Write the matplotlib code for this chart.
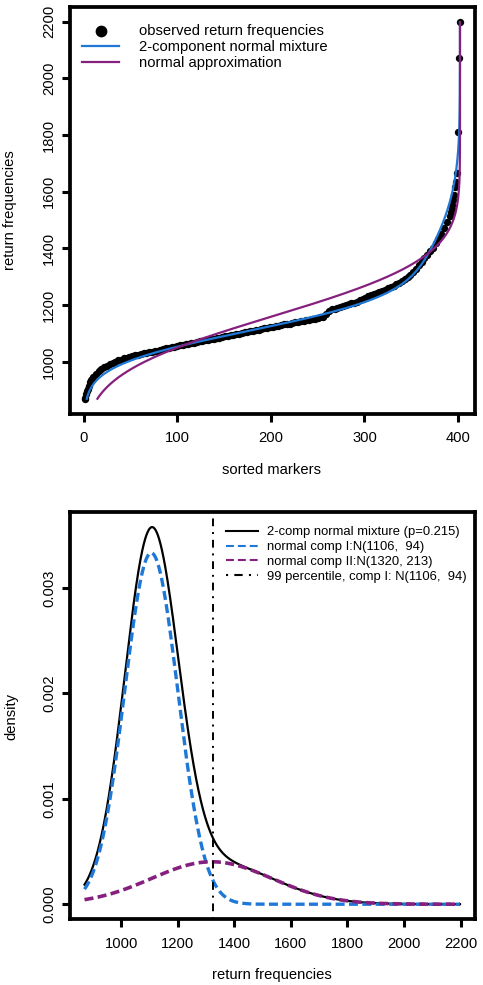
import math
import numpy as np
import matplotlib
matplotlib.use("Agg")
import matplotlib.pyplot as plt
from matplotlib.lines import Line2D

plt.rcParams['font.family'] = ['Liberation Sans', 'DejaVu Sans']

# ---------------- data ----------------
# observed (sorted) return frequencies
obs_rank = [1, 2, 3, 4, 5, 6, 7, 8, 9, 10, 13, 16, 19, 22, 25, 28, 31, 34, 37, 40, 43, 46,
            49, 52, 55, 58,
            61, 64, 67, 70, 73, 76, 79, 82, 85, 88, 91, 94, 97, 100, 103, 106, 109, 112,
            115, 118, 121, 124, 127, 130, 133, 136, 139, 142, 145, 148, 151, 154, 157,
            160, 163, 166, 169, 172, 175, 178, 181, 184, 187, 190, 193, 196, 199, 202,
            205, 208, 211, 214, 217, 220, 223, 226, 229, 232, 235, 238, 241, 244, 247,
            250, 253, 256, 259, 262, 265, 268, 271, 274, 277, 280, 283, 286, 289, 292,
            295, 298, 301, 304, 307, 310, 313, 316, 319, 322, 325, 328, 331, 334, 337,
            340, 343, 346, 349, 352, 355, 358, 361, 364, 367, 370, 373, 376, 379, 382,
            385, 388, 391, 392, 393, 394, 395, 396, 397, 398, 399, 400, 401, 402]
obs_value = [870, 874, 885, 897, 905, 915, 928, 935, 941, 946, 958, 967, 975, 982, 987, 992,
             997, 1001, 1005, 1008, 1012,
             1015, 1018, 1021, 1024, 1026, 1028, 1030, 1032, 1034, 1036, 1038, 1040, 1043,
             1045, 1048, 1050, 1052, 1054, 1056, 1058, 1060, 1062, 1064, 1066, 1068, 1070,
             1072, 1074, 1076, 1078, 1080, 1082, 1084, 1086, 1088, 1090, 1092, 1094, 1096,
             1098, 1100, 1102, 1104, 1106, 1108, 1110, 1112, 1114, 1116, 1118, 1120, 1122,
             1124, 1126, 1128, 1130, 1132, 1133, 1135, 1137, 1139, 1141, 1143, 1145, 1147,
             1149, 1151, 1153, 1155, 1157, 1160, 1168, 1180, 1185, 1188, 1191, 1194, 1196,
             1199, 1203, 1206, 1209, 1213, 1218, 1223, 1227, 1231, 1235, 1239, 1243, 1247,
             1251, 1255, 1259, 1263, 1268, 1273, 1278, 1284, 1291, 1298, 1306, 1316, 1328,
             1341, 1354, 1366, 1378, 1390, 1403, 1418, 1434, 1452, 1472, 1492, 1515, 1529,
             1540, 1553, 1570, 1588, 1618, 1635, 1665, 1812, 2071, 2198]
n_markers = 402

# fitted models (parameters from the legend)
mix_p = 0.215                 # weight of component II
comp_means = [1106, 1320]
comp_sds = [94, 213]
normal_approx_mean = 1160
normal_approx_sd = 162

x_ticks_top = [0, 100, 200, 300, 400]
y_ticks_top = [1000, 1200, 1400, 1600, 1800, 2000, 2200]
x_ticks_bot = [1000, 1200, 1400, 1600, 1800, 2000, 2200]
y_ticks_bot = [0.000, 0.001, 0.002, 0.003]
y_ticklabels_bot = ["0.000", "0.001", "0.002", "0.003"]

# ---------------- helpers ----------------
def npdf(x, m, s):
    return np.exp(-0.5 * ((x - m) / s) ** 2) / (s * math.sqrt(2 * math.pi))

_erf = np.vectorize(math.erf)
def ncdf(x, m, s):
    return 0.5 * (1 + _erf((x - m) / (s * math.sqrt(2))))

w1, w2 = 1 - mix_p, mix_p
ymin, ymax = min(obs_value), max(obs_value)
grid = np.linspace(ymin, ymax, 1500)

BLUE = '#1f78d6'
PURPLE = '#86207f'
FS = 10.6
FS_LEG2 = 9.4

W, H = 483, 985
fig = plt.figure(figsize=(W / 100, H / 100), dpi=100)

def rect(l, t, r, b):
    return [l / W, (H - b) / H, (r - l) / W, (b - t) / H]

def style(ax):
    for sp in ax.spines.values():
        sp.set_linewidth(2.7)
    ax.tick_params(direction='out', length=5.5, width=2.2, labelsize=FS, pad=7)
    ax.tick_params(axis='y', labelrotation=90, pad=4)
    for lab in ax.get_yticklabels():
        lab.set_va('center')

def rlim(lo, hi):
    d = (hi - lo) * 0.04
    return lo - d, hi + d

# ---------------- top panel ----------------
ax1 = fig.add_axes(rect(69.5, 7.2, 475, 413.8))
ax1.scatter(obs_rank, obs_value, s=28, color='black', linewidths=0, zorder=2,
            label='observed return frequencies')
mix_cdf = w1 * ncdf(grid, comp_means[0], comp_sds[0]) + w2 * ncdf(grid, comp_means[1], comp_sds[1])
ax1.plot(n_markers * mix_cdf, grid, color=BLUE, lw=1.6, zorder=3,
         label='2-component normal mixture')
ax1.plot(n_markers * ncdf(grid, normal_approx_mean, normal_approx_sd), grid,
         color=PURPLE, lw=1.6, zorder=4, label='normal approximation')
ax1.set_xlim(*rlim(1, n_markers))
ax1.set_ylim(*rlim(ymin, ymax))
ax1.set_xticks(x_ticks_top)
ax1.set_yticks(y_ticks_top)
style(ax1)
fs1 = FS * 100 / 72.0
ax1.legend(loc='upper left', bbox_to_anchor=((82 - 69.5) / 405.5, 1 - (23.5 - 7.2) / 406.6),
           frameon=False, fontsize=FS, borderpad=0, borderaxespad=0,
           handlelength=37 / fs1, handletextpad=20 / fs1, labelspacing=0.16,
           markerscale=1.6)

# ---------------- bottom panel ----------------
ax2 = fig.add_axes(rect(69.5, 512, 475, 919.3))
d1 = w1 * npdf(grid, comp_means[0], comp_sds[0])
d2 = w2 * npdf(grid, comp_means[1], comp_sds[1])
dmix = d1 + d2
ax2.plot(grid, dmix, color='black', lw=1.6, zorder=2)
ax2.plot(grid, d1, color=BLUE, lw=2.4, linestyle=(0, (2.7, 1.3)), zorder=3)
ax2.plot(grid, d2, color=PURPLE, lw=2.6, linestyle=(0, (2.5, 1.2)), zorder=4)
q99 = comp_means[0] + 2.326348 * comp_sds[0]
ax2.axvline(q99, color='black', lw=1.4, linestyle=(0, (1, 3, 4, 3)), zorder=5)
ax2.set_xlim(*rlim(ymin, ymax))
ax2.set_ylim(*rlim(0, dmix.max()))
ax2.set_xticks(x_ticks_bot)
ax2.set_yticks(y_ticks_bot)
ax2.set_yticklabels(y_ticklabels_bot)
style(ax2)
handles = [
    Line2D([], [], color='black', lw=1.5),
    Line2D([], [], color=BLUE, lw=1.5, linestyle=(0, (3.8, 1.9))),
    Line2D([], [], color=PURPLE, lw=1.5, linestyle=(0, (3.8, 1.9))),
    Line2D([], [], color='black', lw=1.5, linestyle=(0, (1, 3, 4, 3))),
]
labels = ['2-comp normal mixture (p=0.215)',
          'normal comp I:N(1106,  94)',
          'normal comp II:N(1320, 213)',
          '99 percentile, comp I: N(1106,  94)']
fs2 = FS_LEG2 * 100 / 72.0
ax2.legend(handles, labels, loc='upper left',
           bbox_to_anchor=((226 - 69.5) / 405.5, 1 - (526.2 - 512) / 407.3),
           frameon=False, fontsize=FS_LEG2, borderpad=0, borderaxespad=0,
           handlelength=32 / fs2, handletextpad=8.7 / fs2, labelspacing=0.2)

# ---------------- axis labels ----------------
fig.text(272 / W, 1 - 470 / H, 'sorted markers', ha='center', va='center', fontsize=FS)
fig.text(10 / W, 1 - 210 / H, 'return frequencies', ha='center', va='center',
         rotation=90, fontsize=FS)
fig.text(272 / W, 1 - 975 / H, 'return frequencies', ha='center', va='center', fontsize=FS)
fig.text(11 / W, 1 - 716 / H, 'density', ha='center', va='center', rotation=90, fontsize=FS)

fig.savefig('out.png', dpi=100)
